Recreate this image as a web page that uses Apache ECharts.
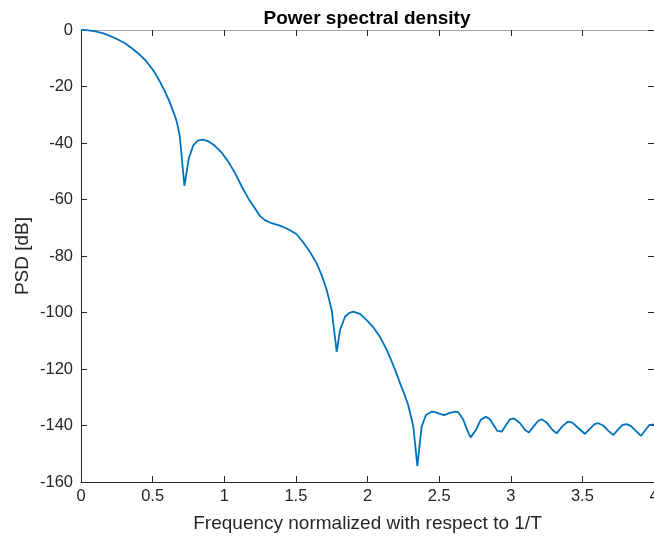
<!DOCTYPE html>
<html>
<head>
<meta charset="utf-8">
<script src="https://cdn.jsdelivr.net/npm/echarts@6/dist/echarts.min.js"></script>
<style>
  html, body { margin: 0; padding: 0; background: #fff; overflow: hidden; }
  #chart { width: 654px; height: 537px; }
</style>
</head>
<body>
<div id="chart"></div>
<script>
// Normalized frequency (f·T) and PSD in dB
const freq = [
  0, 0.04, 0.1, 0.15, 0.19, 0.25, 0.307, 0.35, 0.4, 0.423, 0.45, 0.5, 0.517, 0.55,
  0.586, 0.615, 0.644, 0.665, 0.679, 0.69, 0.722, 0.752, 0.784, 0.815, 0.85, 0.89,
  0.935, 0.98, 1.028, 1.075, 1.122, 1.17, 1.215, 1.25, 1.284, 1.33, 1.377, 1.42,
  1.459, 1.506, 1.552, 1.6, 1.645, 1.68, 1.715, 1.75, 1.785, 1.808, 1.843, 1.87,
  1.901, 1.95, 1.994, 2.04, 2.087, 2.13, 2.16, 2.2, 2.227, 2.26, 2.285, 2.32,
  2.348, 2.378, 2.408, 2.448, 2.471, 2.5, 2.534, 2.57, 2.611, 2.634, 2.669, 2.695,
  2.72, 2.757, 2.79, 2.827, 2.855, 2.88, 2.906, 2.937, 2.965, 2.995, 3.023, 3.065,
  3.1, 3.127, 3.16, 3.19, 3.216, 3.25, 3.29, 3.32, 3.36, 3.4, 3.43, 3.47, 3.518,
  3.555, 3.585, 3.611, 3.645, 3.68, 3.716, 3.75, 3.78, 3.809, 3.84, 3.875, 3.909,
  3.94, 3.965, 4.0
];
const psd = [
  0, -0.05, -0.5, -1.1, -1.8, -3.2, -4.7, -6.3, -8.3, -9.4, -10.7, -14, -15.3, -18.2,
  -21.8, -25, -28.9, -31.8, -34.8, -37.8, -55.2, -45.5, -40.8, -39.2, -38.8, -39.4,
  -41, -43.3, -46.6, -50.6, -55.4, -59.8, -63.2, -65.9, -67.3, -68.4, -69.1, -69.9,
  -70.9, -72.3, -75.2, -78.7, -82.6, -86.8, -92, -99.1, -113.9, -106.2, -101.5, -100.2,
  -99.7, -100.6, -102.7, -105.2, -108.6, -112.8, -116.2, -121.3, -125, -129.3, -132.9, -140.4,
  -154.3, -140.4, -136.3, -135.1, -135.3, -135.8, -136.3, -135.6, -135.1, -135.3, -138, -141.5,
  -144.2, -141.6, -138, -136.9, -137.8, -139.8, -141.9, -142.2, -140, -137.8, -137.5, -139.2,
  -141.6, -142.5, -140.3, -138.4, -137.8, -138.9, -141.5, -142.8, -140.3, -138.6, -139, -140.8, -143,
  -141, -139.5, -139.2, -140, -141.8, -143.4, -141.4, -139.8, -139.5, -140.2, -142, -143.7,
  -141.6, -139.9, -139.6
];

const titleText = 'Power spectral density';
const xLabel = 'Frequency normalized with respect to 1/T';
const yLabel = 'PSD [dB]';

const axisColor = '#262626';
const boxColor = '#a6a6a6';
const fontFamily = '"Liberation Sans", Arial, Helvetica, sans-serif';

const chart = echarts.init(document.getElementById('chart'), null, {
  renderer: 'canvas', width: 654, height: 537
});

function boxAxis(lineColor) {
  return {
    axisLine: { show: true, onZero: false, lineStyle: { color: lineColor, width: 1 } },
    axisTick: { show: true, inside: true, length: 6, lineStyle: { color: axisColor } },
    splitLine: { show: false }
  };
}

chart.setOption({
  animation: false,
  backgroundColor: '#ffffff',
  title: {
    text: titleText,
    left: 362, top: 4, textAlign: 'center',
    textStyle: { fontFamily, fontSize: 19, fontWeight: 'bold', color: '#000' }
  },
  grid: {
    left: 81, right: 0, top: 30, bottom: 55,
    containLabel: false, outerBoundsMode: 'none'
  },
  xAxis: [
    Object.assign({
      type: 'value', min: 0, max: 4, interval: 0.5,
      position: 'bottom',
      name: xLabel, nameLocation: 'middle', nameGap: 32,
      nameTextStyle: { fontFamily, fontSize: 19, color: axisColor },
      axisLabel: { fontFamily, fontSize: 16.5, color: axisColor, margin: 6 }
    }, boxAxis(axisColor)),
    Object.assign({
      type: 'value', min: 0, max: 4, interval: 0.5,
      position: 'top', axisLabel: { show: false }
    }, boxAxis(boxColor))
  ],
  yAxis: [
    Object.assign({
      type: 'value', min: -160, max: 0, interval: 20,
      position: 'left',
      name: yLabel, nameLocation: 'middle', nameGap: 49,
      nameMoveOverlap: false,
      nameTextStyle: { fontFamily, fontSize: 19, color: axisColor },
      axisLabel: { fontFamily, fontSize: 16.5, color: axisColor, margin: 8 }
    }, boxAxis(axisColor)),
    Object.assign({
      type: 'value', min: -160, max: 0, interval: 20,
      position: 'right', axisLabel: { show: false }
    }, boxAxis(boxColor))
  ],
  series: [{
    type: 'line',
    data: freq.map((f, i) => [f, psd[i]]),
    showSymbol: false,
    smooth: false,
    clip: true,
    lineStyle: { color: '#0072BD', width: 1.8 },
    xAxisIndex: 0, yAxisIndex: 0
  }]
});
</script>
</body>
</html>
